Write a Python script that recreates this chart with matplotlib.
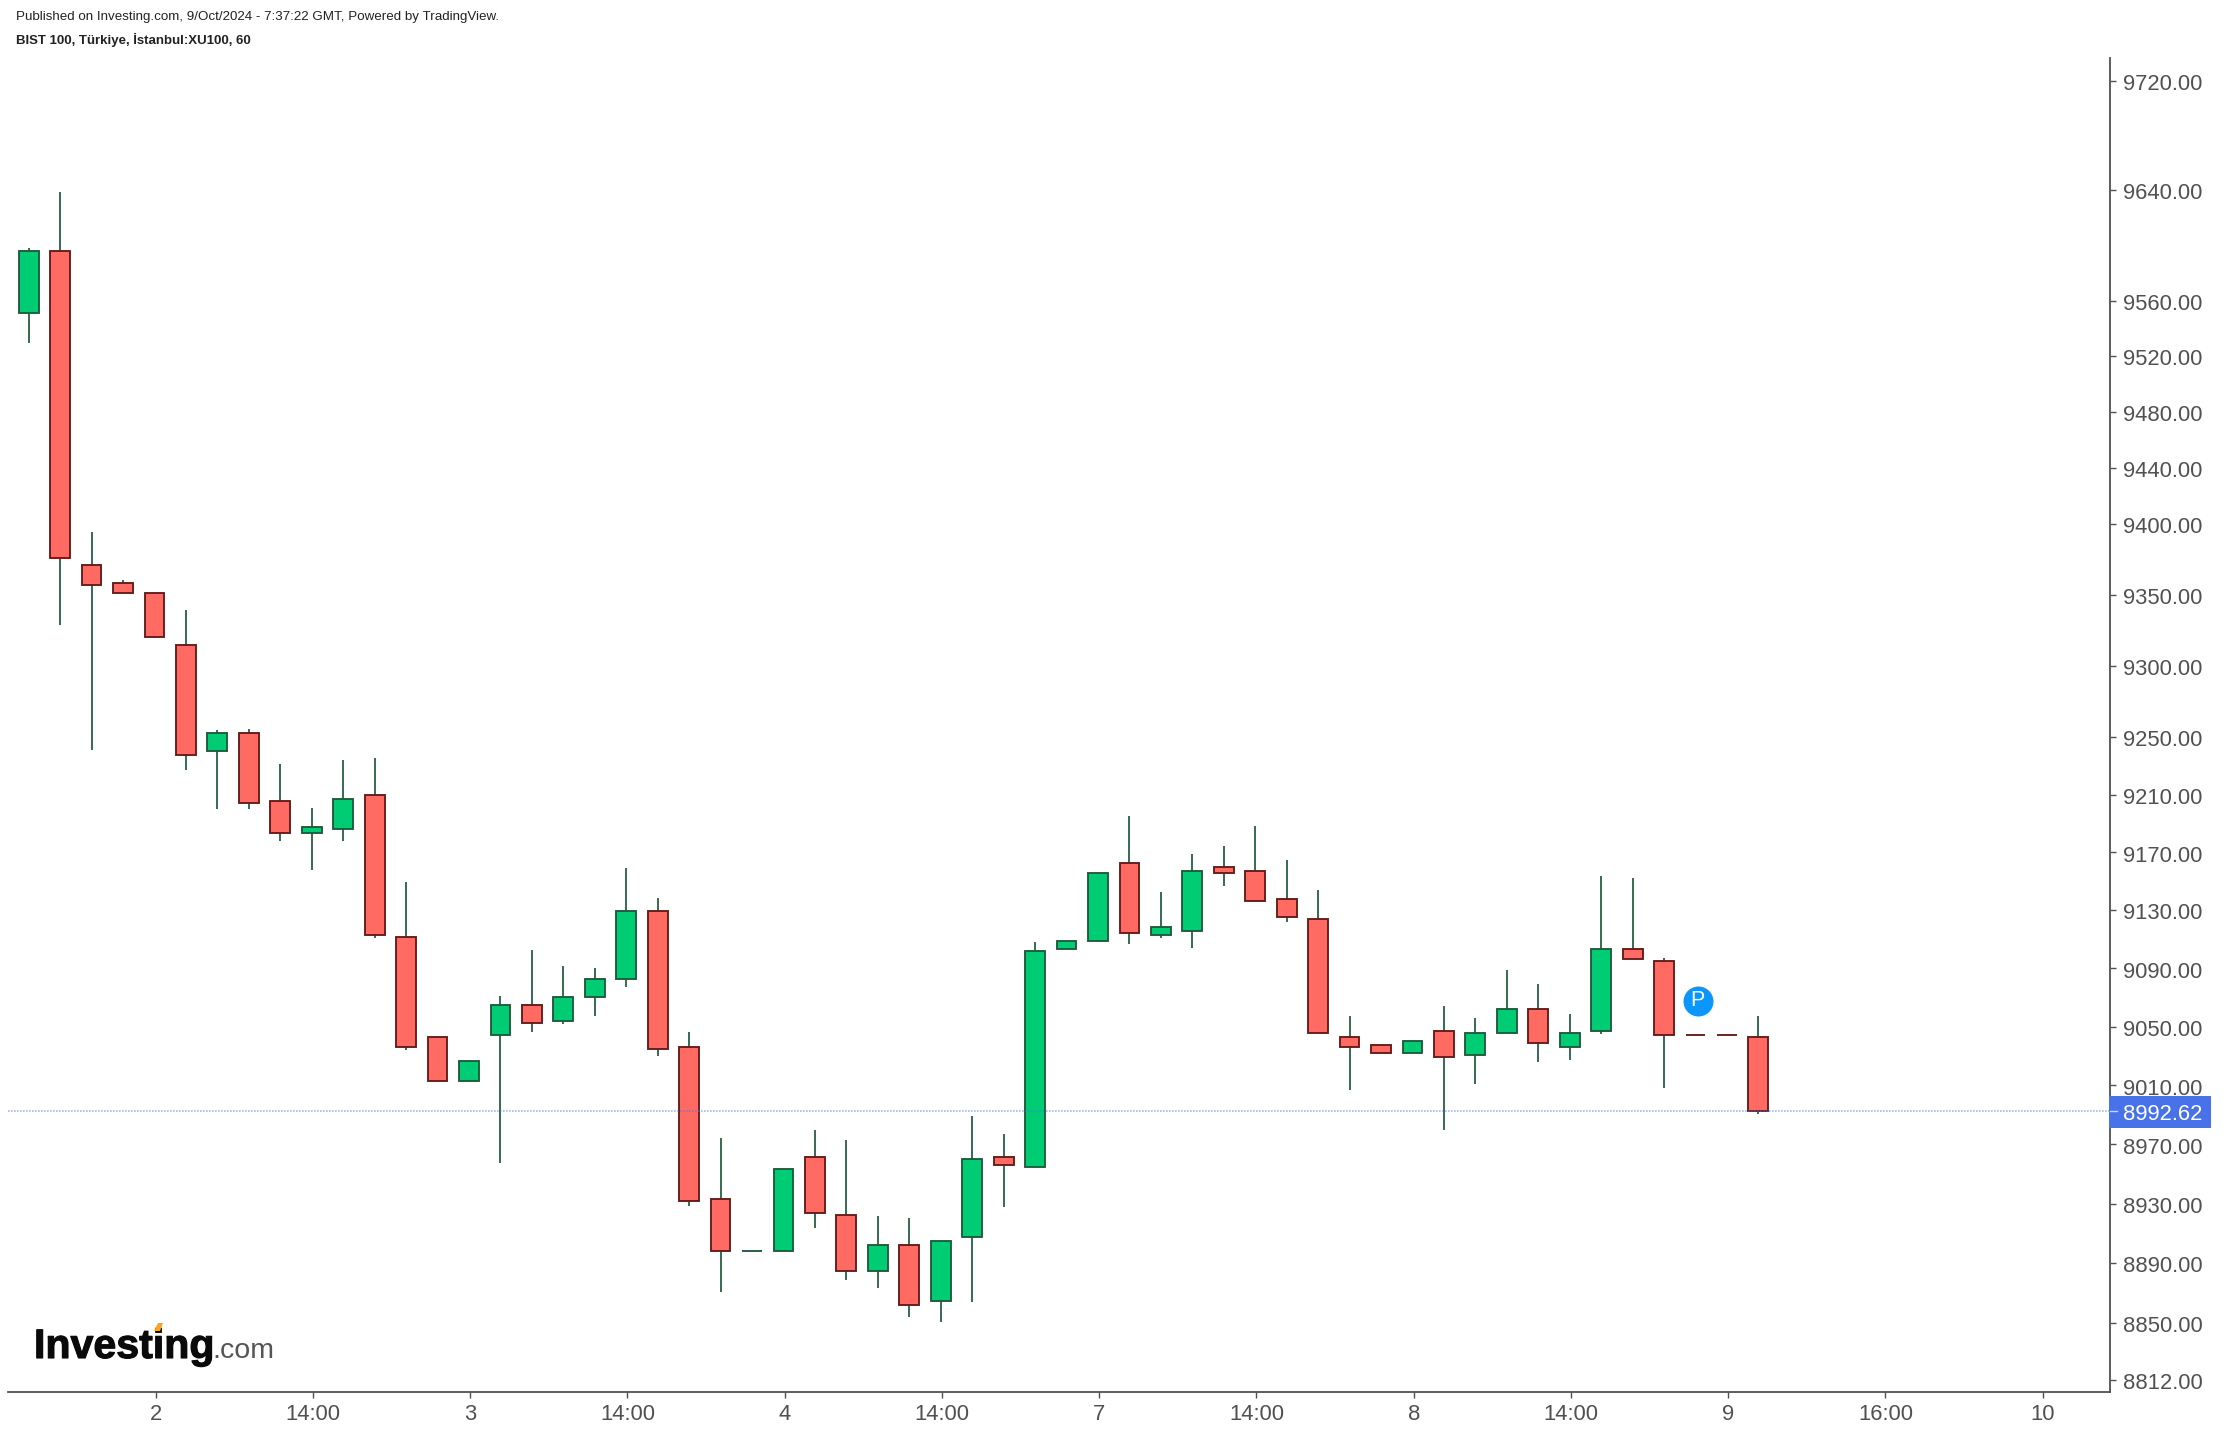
import numpy as np
import matplotlib
matplotlib.use("Agg")
import matplotlib.pyplot as plt
import matplotlib.patheffects as pe
from matplotlib.lines import Line2D
from matplotlib.patches import Rectangle, Polygon
from matplotlib.transforms import Bbox, ScaledTranslation

opens = [9551.0,9595.8,9371.3,9358.3,9351.3,9314.6,9240.5,9253.0,9205.7,9183.4,9186.2,9209.8,9111.6,9043.0,9012.9,9044.2,9065.0,9054.0,9070.2,9082.5,9129.7,9036.4,8933.4,8898.3,8897.9,8961.6,8922.6,8884.7,8902.4,8864.6,8907.5,8961.6,8954.9,9103.1,9108.8,9162.7,9112.7,9115.5,9160.0,9157.3,9137.9,9124.2,9043.2,9037.8,9031.9,9047.3,9030.6,9045.6,9062.4,9036.0,9046.9,9103.5,9095.3,9044.5,9044.5,9043.2]
highs = [9598.0,9638.7,9394.4,9360.2,9351.3,9339.4,9254.8,9256.0,9231.5,9200.7,9234.3,9235.5,9149.5,9043.0,9026.9,9071.1,9102.6,9091.6,9090.3,9159.2,9138.5,9046.5,8974.4,8898.3,8953.7,8979.8,8973.0,8921.7,8920.4,8904.8,8989.3,8977.1,9108.1,9109.0,9155.8,9195.2,9142.6,9168.8,9174.4,9188.2,9164.7,9144.0,9057.4,9037.8,9040.5,9064.2,9056.0,9088.9,9079.3,9058.8,9153.6,9152.2,9097.1,9044.5,9044.5,9057.4]
lows = [9529.4,9328.4,9241.4,9351.1,9320.3,9227.4,9199.8,9199.8,9177.5,9158.0,9177.5,9111.2,9034.4,9012.9,9012.9,8957.2,9046.7,9052.1,9057.7,9076.9,9030.3,8928.6,8870.8,8898.3,8897.9,8913.9,8878.9,8873.6,8853.6,8850.7,8864.1,8927.4,8954.9,9103.1,9108.8,9106.9,9111.2,9104.3,9146.7,9136.2,9122.1,9045.6,9006.9,9031.9,9031.9,8979.8,9011.0,9045.6,9026.0,9027.4,9045.1,9096.2,9008.3,9044.3,9044.3,8990.8]
closes = [9596.1,9375.7,9356.7,9351.1,9320.3,9237.7,9253.0,9204.2,9183.4,9187.7,9207.0,9112.7,9036.3,9012.9,9026.9,9065.0,9052.5,9070.5,9082.7,9129.7,9034.6,8931.5,8897.9,8898.3,8953.7,8923.6,8884.7,8902.4,8861.7,8904.8,8960.4,8955.8,9102.1,9109.0,9155.8,9114.1,9118.7,9157.3,9155.5,9136.2,9125.1,9045.6,9036.0,9031.9,9040.5,9029.2,9046.0,9062.4,9038.7,9046.0,9103.5,9096.2,9044.2,9044.3,9044.3,8992.62]
price_ticks = [9720,9640,9560,9520,9480,9440,9400,9350,9300,9250,9210,9170,9130,9090,9050,9010,8970,8930,8890,8850,8812]
time_tick_bars = [4.04,9.04,14.04,19.04,24.04,29.04,34.04,39.04,44.04,49.04,54.04,59.04,64.04]
time_tick_labels = ['2','14:00','3','14:00','4','14:00','7','14:00','8','14:00','9','16:00','10']
last_price = 8992.62
pivot_bar, pivot_price = 53.07, 9067.9

W, H = 2230, 1434
FONT = 'Liberation Sans'
GREY = '#515151'
UP, UP_EDGE = '#00CC74', '#1E5A3C'
DOWN, DOWN_EDGE = '#FF6B62', '#641A1A'
BLUE = '#4A72E8'

plt.rcParams['font.family'] = [FONT, 'DejaVu Sans']
fig = plt.figure(figsize=(W/100, H/100), dpi=100, facecolor='white')
ax = fig.add_axes([8/W, (H-1392)/H, (2110-8)/W, (1392-58)/H])
ax.set_yscale('log')
ax.set_xlim(-0.658, 66.18)
ax.set_ylim(8803.9, 9736.7)

o = np.array(opens); c = np.array(closes); h = np.array(highs); l = np.array(lows)
x = np.arange(len(o))
up = c >= o
ax.vlines(x, l, h, color=UP_EDGE, lw=1.25, zorder=2)
ax.bar(x, np.abs(c-o), bottom=np.minimum(o, c), width=0.63,
       color=[UP if u else DOWN for u in up],
       edgecolor=[UP_EDGE if u else DOWN_EDGE for u in up],
       linewidth=1.35, zorder=3)
ax.axhline(last_price, color=BLUE, lw=1.2, ls=(0, (1, 0.8)), alpha=0.5, zorder=4)
ax.plot([pivot_bar], [pivot_price], 'o', ms=21.6, mfc='#0A96FB', mec='none', zorder=5)
ax.text(pivot_bar, pivot_price, 'P', color='white', fontsize=15.5, ha='center', va='center', zorder=6)

for s in ('top', 'left'):
    ax.spines[s].set_visible(False)
for s in ('right', 'bottom'):
    ax.spines[s].set_color(GREY)
    ax.spines[s].set_linewidth(1.3)

ax.minorticks_off()
ax.yaxis.tick_right()
ax.set_yticks(price_ticks)
ax.set_yticklabels([f'{t:.2f}' for t in price_ticks])
ax.set_xticks(time_tick_bars)
ax.set_xticklabels(time_tick_labels)
ax.tick_params(axis='both', which='major', length=4.5, width=1.0, color=GREY,
               labelcolor=GREY, labelsize=15.8, pad=4.5)
ax.tick_params(axis='y', which='minor', length=0)

down_1px = ScaledTranslation(0, -1.2/100, fig.dpi_scale_trans)
clip = Bbox([[0, H-1389], [W, H]])
for lbl in ax.get_yticklabels():
    lbl.set_transform(lbl.get_transform() + down_1px)
    if lbl.get_text() == '8812.00':
        lbl.set_clip_on(True)
        lbl.set_clip_box(clip)

def fx(px): return px/W
def fy(py): return 1-py/H

# last price tag
fig.add_artist(Rectangle((fx(2109), fy(1127.5)), 102/W, 31.5/H, transform=fig.transFigure,
                         fc=BLUE, ec='none', zorder=8))
fig.add_artist(Line2D([fx(2110), fx(2117)], [fy(1111), fy(1111)], color='#C8D4F8', lw=1.0, zorder=9))
fig.text(fx(2123), fy(1112), f'{last_price:.2f}', color='white', fontsize=15.8, va='center_baseline', ha='left', zorder=9)

# header
fig.text(fx(16), fy(17.3), 'Published on Investing.com, 9/Oct/2024 - 7:37:22 GMT, Powered by TradingView.',
         color='#222222', fontsize=9.6, va='center', ha='left')
fig.text(fx(15.5), fy(40.3), 'BIST 100, Türkiye, İstanbul:XU100, 60',
         color='#222222', fontsize=9.5, fontweight='bold', va='center', ha='left')

# logo
fig.text(fx(34), fy(1358), 'Investing', color='#0A0A0A', fontsize=29.6, fontweight='bold', va='baseline', ha='left',
         path_effects=[pe.withStroke(linewidth=0.8, foreground='#0A0A0A')])
fig.text(fx(212), fy(1358), '.com', color='#555555', fontsize=20.5, va='baseline', ha='left')
fig.add_artist(Polygon([[fx(154), fy(1331)], [fx(160), fy(1331)], [fx(163), fy(1323)], [fx(158), fy(1323)]],
                       closed=True, transform=fig.transFigure, fc='#F9A61A', ec='none', zorder=9))

fig.savefig('out.png', dpi=100, facecolor='white')
